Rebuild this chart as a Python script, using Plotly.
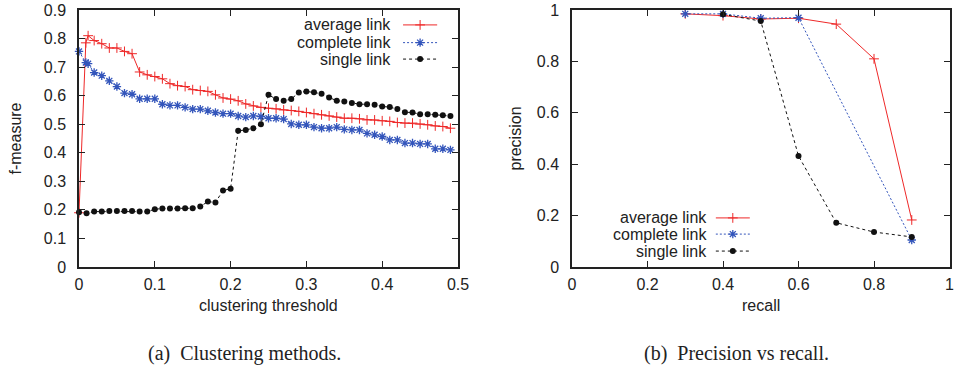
import plotly.graph_objects as go

# ---------------- data ----------------
# (a) clustering methods: f-measure vs clustering threshold
thr_avg = [0, 0.009, 0.012, 0.02, 0.03, 0.04, 0.05, 0.06, 0.07, 0.08, 0.09,
           0.10, 0.11, 0.12, 0.13, 0.14, 0.15, 0.16, 0.17, 0.18, 0.19,
           0.20, 0.21, 0.22, 0.23, 0.24, 0.25, 0.26, 0.27, 0.28, 0.29,
           0.30, 0.31, 0.32, 0.33, 0.34, 0.35, 0.36, 0.37, 0.38, 0.39,
           0.40, 0.41, 0.42, 0.43, 0.44, 0.45, 0.46, 0.47, 0.48, 0.49]
f_average = [0.19, 0.785, 0.81, 0.793, 0.782, 0.767, 0.767, 0.755, 0.747, 0.683, 0.673,
             0.667, 0.659, 0.642, 0.635, 0.632, 0.621, 0.618, 0.615, 0.603, 0.592,
             0.588, 0.582, 0.571, 0.564, 0.559, 0.556, 0.554, 0.55, 0.548, 0.545,
             0.541, 0.537, 0.533, 0.529, 0.525, 0.521, 0.521, 0.519, 0.515, 0.515,
             0.512, 0.51, 0.506, 0.504, 0.504, 0.501, 0.498, 0.494, 0.492, 0.486]
f_complete = [0.755, 0.716, 0.712, 0.681, 0.67, 0.652, 0.632, 0.609, 0.605, 0.589, 0.589,
              0.589, 0.57, 0.566, 0.566, 0.559, 0.553, 0.553, 0.547, 0.541, 0.537,
              0.537, 0.529, 0.525, 0.529, 0.527, 0.521, 0.521, 0.518, 0.501, 0.498,
              0.498, 0.49, 0.486, 0.486, 0.49, 0.482, 0.48, 0.48, 0.468, 0.463,
              0.457, 0.445, 0.445, 0.434, 0.434, 0.431, 0.431, 0.414, 0.414, 0.41]
thr_single = [0, 0.01, 0.02, 0.03, 0.04, 0.05, 0.06, 0.07, 0.08, 0.09,
              0.10, 0.11, 0.12, 0.13, 0.14, 0.15, 0.16, 0.17, 0.18, 0.19,
              0.20, 0.21, 0.22, 0.23, 0.24, 0.25, 0.26, 0.27, 0.28, 0.29,
              0.30, 0.31, 0.32, 0.33, 0.34, 0.35, 0.36, 0.37, 0.38, 0.39,
              0.40, 0.41, 0.42, 0.43, 0.44, 0.45, 0.46, 0.47, 0.48, 0.49]
f_single = [0.192, 0.188, 0.194, 0.194, 0.196, 0.196, 0.196, 0.196, 0.194, 0.194,
            0.202, 0.205, 0.205, 0.205, 0.206, 0.206, 0.212, 0.229, 0.226, 0.268,
            0.274, 0.477, 0.48, 0.486, 0.5, 0.603, 0.588, 0.582, 0.588, 0.611,
            0.615, 0.612, 0.607, 0.594, 0.582, 0.58, 0.574, 0.57, 0.57, 0.568,
            0.562, 0.56, 0.553, 0.542, 0.541, 0.535, 0.535, 0.533, 0.531, 0.529]

# (b) precision vs recall
recall_avg = [0.3, 0.4, 0.5, 0.6, 0.7, 0.8, 0.9]
prec_avg = [0.985, 0.978, 0.965, 0.968, 0.945, 0.81, 0.183]
recall_complete = [0.3, 0.4, 0.5, 0.6, 0.9]
prec_complete = [0.985, 0.985, 0.968, 0.97, 0.105]
recall_single = [0.4, 0.5, 0.6, 0.7, 0.8, 0.9]
prec_single = [0.983, 0.957, 0.432, 0.172, 0.136, 0.117]

series_names = ["average link", "complete link", "single link"]
left_xticks = [0, 0.1, 0.2, 0.3, 0.4, 0.5]
left_yticks = [0, 0.1, 0.2, 0.3, 0.4, 0.5, 0.6, 0.7, 0.8, 0.9]
right_ticks = [0, 0.2, 0.4, 0.6, 0.8, 1]
left_xtitle, left_ytitle = "clustering threshold", "f-measure"
right_xtitle, right_ytitle = "recall", "precision"
captions = ["(a)\u00a0\u00a0Clustering methods.", "(b)\u00a0\u00a0Precision vs recall."]

# ---------------- styles ----------------
W, H = 954, 372
SANS = "Liberation Sans, Arial, Helvetica, sans-serif"
SERIF = "Liberation Serif, Times New Roman, serif"
TXT = "#222222"
RED, BLUE, BLACK = "#ee2828", "#3355bb", "#111111"
styles = [
    dict(line=dict(color=RED, width=1), marker=dict(symbol="cross-thin-open", size=7,
         line=dict(color=RED, width=1), color=RED)),
    dict(line=dict(color=BLUE, width=1, dash="2px,2px"), marker=dict(symbol="asterisk-open", size=7,
         line=dict(color=BLUE, width=1.3), color=BLUE)),
    dict(line=dict(color=BLACK, width=1, dash="3px,3px"), marker=dict(symbol="circle", size=6,
         color=BLACK, line=dict(width=0))),
]

L_DOM = [79 / W, 458 / W]
R_DOM = [572 / W, 949.5 / W]

fig = go.Figure()

left_data = [(thr_avg, f_average), (thr_avg, f_complete), (thr_single, f_single)]
right_data = [(recall_avg, prec_avg), (recall_complete, prec_complete), (recall_single, prec_single)]

for (xs, ys), st, nm in zip(left_data, styles, series_names):
    fig.add_trace(go.Scatter(x=xs, y=ys, mode="lines+markers", name=nm, showlegend=False,
                             xaxis="x", yaxis="y", cliponaxis=False, **st))
for (xs, ys), st, nm in zip(right_data, styles, series_names):
    fig.add_trace(go.Scatter(x=xs, y=ys, mode="lines+markers", name=nm, showlegend=False,
                             xaxis="x2", yaxis="y2", cliponaxis=False, **st))

# custom legends (text on the left of the sample, gnuplot style) drawn on overlay axes in [0,1]
legend_left = dict(text_x=0.828, x0=0.855, x1=0.945, rows=[0.942, 0.873, 0.809])
legend_right = dict(text_x=0.363, x0=0.381, x1=0.471, rows=[0.191, 0.128, 0.062])
annotations = []
for leg, xa, ya in [(legend_left, "x3", "y3"), (legend_right, "x4", "y4")]:
    for nm, st, yy in zip(series_names, styles, leg["rows"]):
        fig.add_trace(go.Scatter(x=[leg["x0"], leg["x1"]], y=[yy, yy], mode="lines",
                                 line=st["line"], xaxis=xa, yaxis=ya, showlegend=False,
                                 hoverinfo="skip", cliponaxis=False))
        fig.add_trace(go.Scatter(x=[(leg["x0"] + leg["x1"]) / 2], y=[yy], mode="markers",
                                 marker=st["marker"], xaxis=xa, yaxis=ya, showlegend=False,
                                 hoverinfo="skip", cliponaxis=False))
        annotations.append(dict(text=nm, x=leg["text_x"], y=yy, xref=xa, yref=ya,
                                xanchor="right", yanchor="middle", showarrow=False,
                                font=dict(family=SANS, size=16, color=TXT)))

# axis titles and captions
def px_x(px):
    return px / W

def px_y(py):
    return (267 - py) / 257

annotations += [
    dict(text=left_ytitle, x=px_x(15), y=0.5, textangle=-90),
    dict(text=right_ytitle, x=px_x(515), y=0.5, textangle=-90),
    dict(text=left_xtitle, x=px_x(268.5), y=px_y(305)),
    dict(text=right_xtitle, x=px_x(760.7), y=px_y(305)),
]
for a in annotations[-4:]:
    a.update(xref="paper", yref="paper", xanchor="center", yanchor="middle", showarrow=False,
             font=dict(family=SANS, size=16, color=TXT))
for cap, cx in zip(captions, [244, 736]):
    annotations.append(dict(text=cap, x=px_x(cx), y=px_y(353), xref="paper", yref="paper",
                            xanchor="center", yanchor="middle", showarrow=False,
                            font=dict(family=SERIF, size=20, color=TXT)))

axis_common = dict(showline=True, linewidth=1.5, linecolor=TXT, mirror="ticks",
                   ticks="inside", ticklen=6, tickwidth=1, tickcolor=TXT,
                   showgrid=False, zeroline=False, fixedrange=True, automargin=False,
                   ticklabeloverflow="allow",
                   tickfont=dict(family=SANS, size=16, color=TXT))
hidden = dict(visible=False, fixedrange=True, automargin=False, range=[0, 1])

fig.update_layout(
    width=W, height=H,
    margin=dict(l=0, r=0, t=10, b=105, autoexpand=False),
    paper_bgcolor="white", plot_bgcolor="white",
    xaxis=dict(domain=L_DOM, anchor="y", range=[0, 0.5], tickvals=left_xticks,
               ticktext=[f"{v:g}" for v in left_xticks], ticklabelstandoff=2, **axis_common),
    yaxis=dict(domain=[0, 1], anchor="x", range=[0, 0.9], tickvals=left_yticks,
               ticktext=[f"{v:g}" for v in left_yticks], ticklabelstandoff=8, **axis_common),
    xaxis2=dict(domain=R_DOM, anchor="y2", range=[0, 1], tickvals=right_ticks,
                ticktext=[f"{v:g}" for v in right_ticks], ticklabelstandoff=2, **axis_common),
    yaxis2=dict(domain=[0, 1], anchor="x2", range=[0, 1], tickvals=right_ticks,
                ticktext=[f"{v:g}" for v in right_ticks], ticklabelstandoff=8, **axis_common),
    xaxis3=dict(domain=L_DOM, overlaying="x", **hidden),
    yaxis3=dict(domain=[0, 1], overlaying="y", **hidden),
    xaxis4=dict(domain=R_DOM, overlaying="x2", **hidden),
    yaxis4=dict(domain=[0, 1], overlaying="y2", **hidden),
    annotations=annotations,
    showlegend=False,
)

fig.write_html("out.html")
